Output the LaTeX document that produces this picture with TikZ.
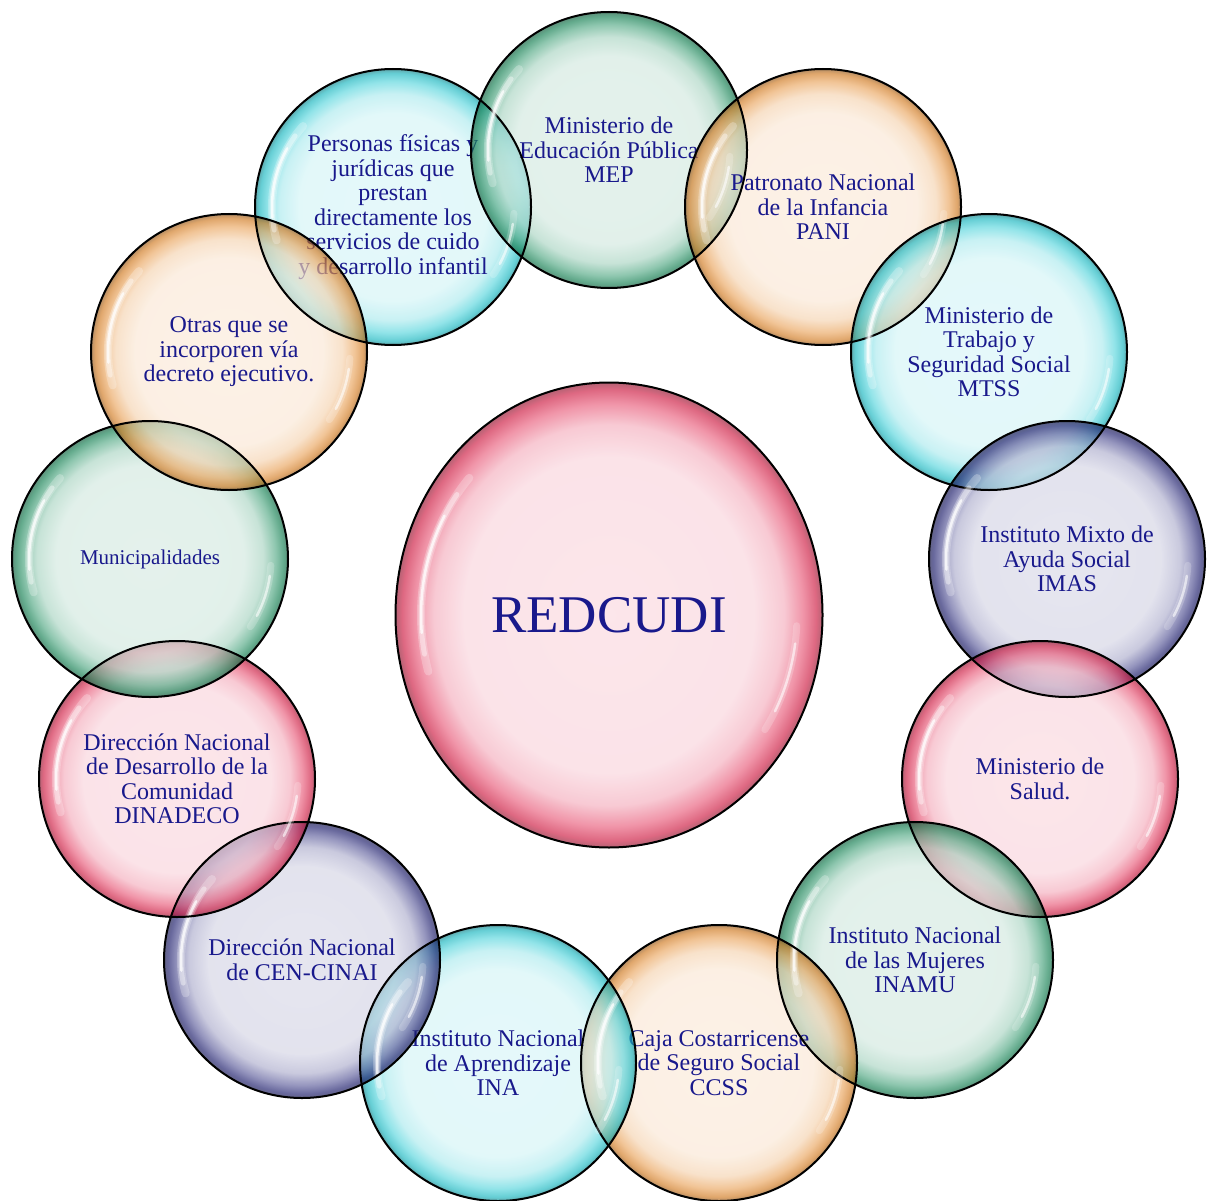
\documentclass[tikz,border=0pt]{standalone}
\usepackage{fontspec}
\setmainfont{Liberation Serif}
\usepackage{tikz}
\usetikzlibrary{shapes.geometric}

\definecolor{c_green}{rgb}{0.10, 0.55, 0.36}
\definecolor{c_orange}{rgb}{0.89, 0.53, 0.16}
\definecolor{c_cyan}{rgb}{0.12, 0.78, 0.82}
\definecolor{c_navy}{rgb}{0.14, 0.14, 0.47}
\definecolor{c_red}{rgb}{0.88, 0.14, 0.30}
\definecolor{c_text}{rgb}{0.10, 0.10, 0.55}
\colorlet{bub}{c_red}

% glassy ball: pale middle, strong rim (25bp = edge of the path)
\pgfdeclareradialshading[bub]{bubble}{\pgfpointorigin}{%
  color(0bp)=(bub!17!white); color(17bp)=(bub!19!white); color(20.5bp)=(bub!36!white);
  color(22.75bp)=(bub!72!white); color(24.25bp)=(bub!92!black); color(25bp)=(bub!65!black);
  color(50bp)=(bub!65!black)}

% white glints on the left and lower right of node #1, #2/#3 = radii
\newcommand\shine[3]{%
  \begin{scope}[shift={(#1.center)}, draw=white, line cap=round]
    \draw[line width=8pt, draw opacity=.25] (196:#2 and #3) arc[start angle=196, end angle=138, x radius=#2, y radius=#3];
    \draw[line width=5pt, draw opacity=.4] (191:#2 and #3) arc[start angle=191, end angle=144, x radius=#2, y radius=#3];
    \draw[line width=2.5pt, draw opacity=.75] (185:#2 and #3) arc[start angle=185, end angle=151, x radius=#2, y radius=#3];
    \draw[line width=7pt, draw opacity=.2] (-3:#2 and #3) arc[start angle=-3, end angle=-34, x radius=#2, y radius=#3];
    \draw[line width=2.5pt, draw opacity=.6] (-8:#2 and #3) arc[start angle=-8, end angle=-28, x radius=#2, y radius=#3];
  \end{scope}}

\tikzset{bub/.code={\colorlet{bub}{#1}},
bubble/.style={circle, minimum size=276pt, inner sep=0pt, bub=#1, shade, shading=bubble,
  fill opacity=0.68, text opacity=1, text=c_text, align=center,
  font=\fontsize{24}{24.5}\selectfont},
rim/.style={draw=black, line width=2pt}}

\begin{document}
\begin{tikzpicture}[x=1pt, y=1pt]
\useasboundingbox (0,0) rectangle (1207,-1201);

\node (red) [ellipse, minimum width=427pt, minimum height=465pt, inner sep=0pt, bub=c_red,
  shade, shading=bubble, fill opacity=0.68, text opacity=1, text=c_text, rim,
  font=\fontsize{53}{60}\selectfont] at (609,-615) {REDCUDI};
\shine{red}{188pt}{205pt}

\node (pers) [bubble=c_cyan] at (393,-207) {Personas físicas y\\ jurídicas que\\ prestan\\ directamente los\\ servicios de cuido\\ y desarrollo infantil};
\node (mep) [bubble=c_green] at (609,-150) {Ministerio de\\ Educación Pública\\ MEP};
\node (pani) [bubble=c_orange] at (823,-207) {Patronato Nacional\\ de la Infancia\\ PANI};
\node (mtss) [bubble=c_cyan] at (989,-352) {Ministerio de\\ Trabajo y\\ Seguridad Social\\ MTSS};
\node (imas) [bubble=c_navy] at (1067,-559) {Instituto Mixto de\\ Ayuda Social\\ IMAS};
\node (salud) [bubble=c_red] at (1040,-779) {Ministerio de\\ Salud.};
\node (inamu) [bubble=c_green] at (915,-960) {Instituto Nacional\\ de las Mujeres\\ INAMU};
\node (ccss) [bubble=c_orange] at (719,-1063) {Caja Costarricense\\ de Seguro Social\\ CCSS};
\node (ina) [bubble=c_cyan] at (498,-1063) {Instituto Nacional\\ de Aprendizaje\\ INA};
\node (cen) [bubble=c_navy] at (302,-960) {Dirección Nacional\\ de CEN-CINAI};
\node (dinadeco) [bubble=c_red] at (177,-779) {Dirección Nacional\\ de Desarrollo de la\\ Comunidad\\ DINADECO};
\node (muni) [bubble=c_green, font=\fontsize{21}{22}\selectfont] at (150,-559) {Municipalidades};
\node (otras) [bubble=c_orange] at (229,-352) {Otras que se\\ incorporen vía\\ decreto ejecutivo.};

% outlines and glints last so they show through the overlaps
\foreach \n in {pers,mep,pani,mtss,imas,salud,inamu,ccss,ina,cen,dinadeco,muni,otras}{
  \draw[rim] (\n.center) circle[radius=138pt];
  \shine{\n}{121pt}{121pt}}
\end{tikzpicture}
\end{document}
